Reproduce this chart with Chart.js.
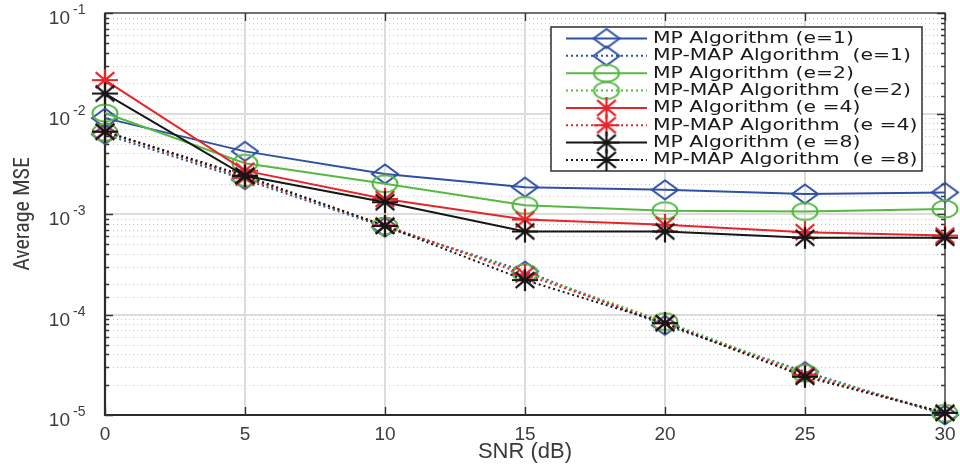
<!DOCTYPE html>
<html>
<head>
<meta charset="utf-8">
<script src="https://cdn.jsdelivr.net/npm/chart.js@4/dist/chart.umd.min.js"></script>
<style>
  html, body { margin: 0; padding: 0; background: #ffffff; }
  #wrap { width: 960px; height: 467px; }
</style>
</head>
<body>
<div id="wrap"><canvas id="mse" width="960" height="467"></canvas></div>
<script>
// SNR points (dB)
const snr = [0, 5, 10, 15, 20, 25, 30];

// Average MSE per method and parameter
const mpE1  = [0.0090, 0.0042, 0.0025, 0.00185, 0.00174, 0.00158, 0.00164];
const mapE1 = [0.0062, 0.0022, 0.00074, 0.00027, 0.000078, 0.000027, 0.0000100];
const mpE2  = [0.0101, 0.0032, 0.0020, 0.00122, 0.00108, 0.00106, 0.00112];
const mapE2 = [0.0065, 0.0023, 0.00076, 0.00026, 0.000085, 0.000026, 0.0000104];
const mpE4  = [0.0215, 0.0027, 0.00141, 0.00088, 0.00078, 0.00066, 0.00061];
const mapE4 = [0.0066, 0.0023, 0.00077, 0.00025, 0.000082, 0.000025, 0.0000105];
const mpE8  = [0.0158, 0.0024, 0.00131, 0.00067, 0.00067, 0.00058, 0.00058];
const mapE8 = [0.0066, 0.0024, 0.00076, 0.00022, 0.000082, 0.000024, 0.0000105];

const seriesNames = [
  'MP Algorithm (e=1)', 'MP-MAP Algorithm  (e=1)',
  'MP Algorithm (e=2)', 'MP-MAP Algorithm  (e=2)',
  'MP Algorithm (e =4)', 'MP-MAP Algorithm  (e =4)',
  'MP Algorithm (e =8)', 'MP-MAP Algorithm  (e =8)'
];

// y tick labels: base 10 with these exponents (1e-5 ... 1e-1)
const yTickExponents = [-5, -4, -3, -2, -1];
const xTitle = 'SNR (dB)';
const yTitle = 'Average MSE';

const BLUE = '#2f51a3', GREEN = '#55b942', RED = '#e8242b', BLACK = '#161616';

// Marker glyphs drawn on small canvases (slightly wider than tall)
function marker(kind, color) {
  const w = 32, h = 28;
  const c = document.createElement('canvas');
  c.width = w; c.height = h;
  const g = c.getContext('2d');
  g.translate(w / 2, h / 2);
  g.strokeStyle = color;
  g.lineWidth = 2;
  g.beginPath();
  if (kind === 'diamond') {
    const rx = 13, ry = 9.5;
    g.moveTo(-rx, 0); g.lineTo(0, -ry); g.lineTo(rx, 0); g.lineTo(0, ry); g.closePath();
  } else if (kind === 'circle') {
    g.ellipse(0, 0, 12.5, 8.5, 0, 0, Math.PI * 2);
  } else {
    const rx = 13, ry = 11, k = 0.72;
    g.lineWidth = 2.2;
    g.moveTo(-rx, 0); g.lineTo(rx, 0);
    g.moveTo(0, -ry); g.lineTo(0, ry);
    g.moveTo(-rx * k, -ry * k); g.lineTo(rx * k, ry * k);
    g.moveTo(-rx * k, ry * k); g.lineTo(rx * k, -ry * k);
  }
  g.stroke();
  return c;
}

const seriesValues = [mpE1, mapE1, mpE2, mapE2, mpE4, mapE4, mpE8, mapE8];
const seriesColors = [BLUE, BLUE, GREEN, GREEN, RED, RED, BLACK, BLACK];
const seriesMarkers = ['diamond', 'diamond', 'circle', 'circle', 'star', 'star', 'star', 'star'];

const datasets = seriesValues.map((vals, i) => {
  const dotted = i % 2 === 1;
  return {
    label: seriesNames[i],
    data: snr.map((s, j) => ({ x: s, y: vals[j] })),
    borderColor: seriesColors[i],
    backgroundColor: 'transparent',
    borderWidth: 2,
    borderDash: dotted ? [2, 3] : [],
    borderCapStyle: 'butt',
    pointStyle: marker(seriesMarkers[i], seriesColors[i]),
    pointRadius: 10,
    tension: 0,
    clip: false,
    order: 8 - i
  };
});

const isDecade = v => Math.abs(Math.log10(v) - Math.round(Math.log10(v))) < 1e-6;

// Grid, axes box, inward tick marks and power-of-ten labels
const frame = {
  id: 'frame',
  beforeDatasetsDraw(chart) {
    const { ctx, chartArea: a, scales: { x, y } } = chart;
    ctx.save();
    const hline = (py) => { ctx.beginPath(); ctx.moveTo(a.left, py); ctx.lineTo(a.right, py); ctx.stroke(); };

    // minor dotted horizontals
    ctx.strokeStyle = '#c4c4c4';
    ctx.lineWidth = 1;
    ctx.setLineDash([1, 3]);
    y.ticks.forEach(t => {
      if (!isDecade(t.value)) hline(Math.round(y.getPixelForValue(t.value)) + 0.5);
    });

    // major solid grid
    ctx.setLineDash([]);
    ctx.strokeStyle = '#dcdcdc';
    ctx.lineWidth = 2;
    y.ticks.forEach(t => {
      if (isDecade(t.value)) hline(Math.round(y.getPixelForValue(t.value)));
    });
    x.ticks.forEach(t => {
      const px = Math.round(x.getPixelForValue(t.value));
      ctx.beginPath(); ctx.moveTo(px, a.top); ctx.lineTo(px, a.bottom); ctx.stroke();
    });

    // box
    ctx.strokeStyle = '#3a3a3a';
    ctx.lineWidth = 1.3;
    ctx.strokeRect(a.left, a.top, a.right - a.left, a.bottom - a.top);
    ctx.strokeStyle = '#2b2b2b';
    ctx.lineWidth = 2.2;
    ctx.beginPath();
    ctx.moveTo(a.left, a.top); ctx.lineTo(a.left, a.bottom); ctx.lineTo(a.right, a.bottom);
    ctx.stroke();

    // tick marks
    ctx.lineWidth = 1.4;
    ctx.strokeStyle = '#333';
    y.ticks.forEach(t => {
      const py = Math.round(y.getPixelForValue(t.value)) + 0.5;
      const len = isDecade(t.value) ? 8 : 4;
      ctx.beginPath();
      ctx.moveTo(a.left, py); ctx.lineTo(a.left + len, py);
      ctx.moveTo(a.right, py); ctx.lineTo(a.right - len, py);
      ctx.stroke();
    });
    x.ticks.forEach(t => {
      const px = Math.round(x.getPixelForValue(t.value)) + 0.5;
      ctx.beginPath();
      ctx.moveTo(px, a.bottom); ctx.lineTo(px, a.bottom - 8);
      ctx.moveTo(px, a.top); ctx.lineTo(px, a.top + 8);
      ctx.stroke();
    });

    // y tick labels as 10 with a raised exponent
    ctx.fillStyle = '#3c3c3c';
    ctx.textBaseline = 'alphabetic';
    yTickExponents.forEach(e => {
      const py = y.getPixelForValue(Math.pow(10, e));
      ctx.font = '19px "Liberation Sans", "DejaVu Sans", sans-serif';
      ctx.textAlign = 'right';
      ctx.fillText('10', 70, py + 11);
      ctx.font = '14px "Liberation Sans", "DejaVu Sans", sans-serif';
      ctx.textAlign = 'left';
      ctx.fillText('-' + Math.abs(e), 73, py + 1);
    });
    ctx.restore();
  }
};

// Legend box with line samples and markers
const legendBox = {
  id: 'legendBox',
  afterDraw(chart) {
    const ctx = chart.ctx;
    const bx = 551, by = 27, bw = 371, bh = 144;
    ctx.save();
    ctx.fillStyle = '#ffffff';
    ctx.fillRect(bx, by, bw, bh);
    ctx.strokeStyle = '#3a3a3a';
    ctx.lineWidth = 1.6;
    ctx.strokeRect(bx, by, bw, bh);

    ctx.font = '15px "DejaVu Sans", sans-serif';
    const target = 258;
    const widest = ctx.measureText(seriesNames[1]).width;
    const sx = target / widest;

    chart.data.datasets.forEach((ds, i) => {
      const cy = 38.5 + i * 17.35;
      ctx.strokeStyle = ds.borderColor;
      ctx.lineWidth = 2;
      ctx.setLineDash(ds.borderDash);
      ctx.beginPath(); ctx.moveTo(566, cy); ctx.lineTo(647, cy); ctx.stroke();
      ctx.setLineDash([]);
      const m = ds.pointStyle;
      ctx.drawImage(m, 606.5 - m.width / 2, cy - m.height / 2);

      ctx.save();
      ctx.translate(653, cy + 0.5);
      ctx.scale(sx, 1);
      ctx.fillStyle = '#1a1a1a';
      ctx.textBaseline = 'middle';
      ctx.fillText(ds.label, 0, 0);
      ctx.restore();
    });
    ctx.restore();
  }
};

const tickFont = { family: '"Liberation Sans", "DejaVu Sans", sans-serif', size: 19 };

new Chart(document.getElementById('mse'), {
  type: 'line',
  data: { datasets },
  options: {
    responsive: false,
    animation: false,
    devicePixelRatio: 1,
    layout: { padding: { top: 13, right: 15, left: 0, bottom: 0 } },
    plugins: { legend: { display: false }, tooltip: { enabled: false } },
    scales: {
      x: {
        type: 'linear', min: 0, max: 30,
        ticks: { stepSize: 5, color: '#3c3c3c', font: tickFont, padding: 8, maxRotation: 0 },
        grid: { display: false, drawTicks: false },
        border: { display: false },
        title: {
          display: true, text: xTitle, color: '#3a3a3a',
          font: { family: '"Liberation Sans", "DejaVu Sans", sans-serif', size: 22 },
          padding: { top: 0, bottom: 2 }
        },
        afterFit(s) { s.height = 52; s.paddingLeft = 0; s.paddingRight = 0; }
      },
      y: {
        type: 'logarithmic', min: 1e-5, max: 1e-1,
        ticks: { display: false },
        grid: { display: false, drawTicks: false },
        border: { display: false },
        title: {
          display: true, text: yTitle, color: '#3a3a3a',
          font: { family: '"Liberation Sans Narrow", "Roboto Condensed", "Liberation Sans", sans-serif', size: 22 },
          padding: { top: 10, bottom: 0 }
        },
        afterFit(s) { s.width = 105; s.paddingTop = 0; s.paddingBottom = 0; }
      }
    }
  },
  plugins: [frame, legendBox]
});
</script>
</body>
</html>
